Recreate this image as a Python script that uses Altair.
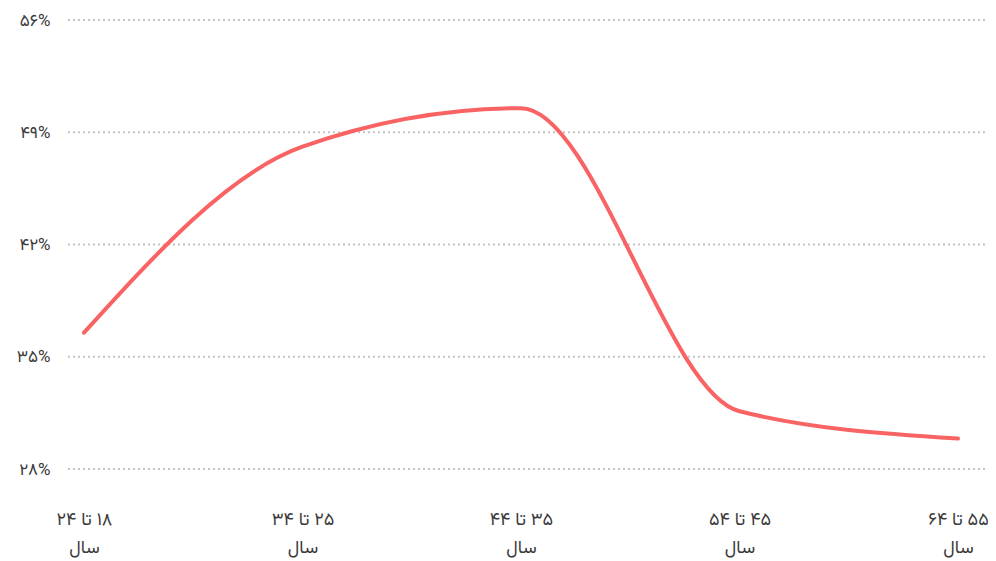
import altair as alt
import pandas as pd

# --- data ---
categories = ["۱۸ تا ۲۴", "۲۵ تا ۳۴", "۳۵ تا ۴۴", "۴۵ تا ۵۴", "۵۵ تا ۶۴"]
unit_label = "سال"
values = [36.5, 48.1, 50.5, 31.6, 29.9]
y_ticks = [28, 35, 42, 49, 56]
y_tick_labels = ["۲۸%", "۳۵%", "۴۲%", "۴۹%", "۵۶%"]

df = pd.DataFrame({"group": categories, "share": values})
grid_df = pd.DataFrame({"share": y_ticks})

RLM = "\u200f"
x_label_expr = "['" + RLM + "' + datum.label, '" + unit_label + "']"
y_label_expr = " : ".join(
    f"datum.value == {v} ? '{t}'" for v, t in zip(y_ticks, y_tick_labels)
) + " : ''"

FONT = "Vazirmatn, DejaVu Sans, sans-serif"
W = 920
H = 449

y_enc = alt.Y(
    "share:Q",
    scale=alt.Scale(domain=[28, 56], nice=False, zero=False),
    axis=alt.Axis(
        title=None,
        values=y_ticks,
        labelExpr=y_label_expr,
        labelPadding=18,
        labelFontSize=17,
        labelColor="#3a3a3a",
        labelFont=FONT,
        ticks=False,
        domain=False,
        grid=False,
    ),
)

grid = (
    alt.Chart(grid_df)
    .mark_rule(color="#c4c4c4", strokeDash=[2, 3], strokeWidth=2)
    .encode(y=y_enc, x=alt.value(0), x2=alt.value(W))
)

line = (
    alt.Chart(df)
    .mark_line(color="#f96363", strokeWidth=4, interpolate="monotone", strokeCap="round")
    .encode(
        x=alt.X(
            "group:N",
            sort=categories,
            scale=alt.Scale(type="point", range=[16, 890], padding=0),
            axis=alt.Axis(
                title=None,
                labelExpr=x_label_expr,
                labelAngle=0,
                labelPadding=41,
                labelFontSize=18,
                labelLineHeight=28,
                labelColor="#3a3a3a",
                labelFont=FONT,
                labelFontWeight="normal",
                ticks=False,
                domain=False,
                grid=False,
            ),
        ),
        y=y_enc,
    )
)

chart = (
    alt.layer(grid, line)
    .properties(
        width=W,
        height=H,
        autosize=alt.AutoSizeParams(type="none"),
        padding={"left": 60, "top": 12, "right": 0, "bottom": 92},
    )
    .configure_view(stroke=None)
)

chart.save("out.html", embed_options={"renderer": "svg", "actions": False})
